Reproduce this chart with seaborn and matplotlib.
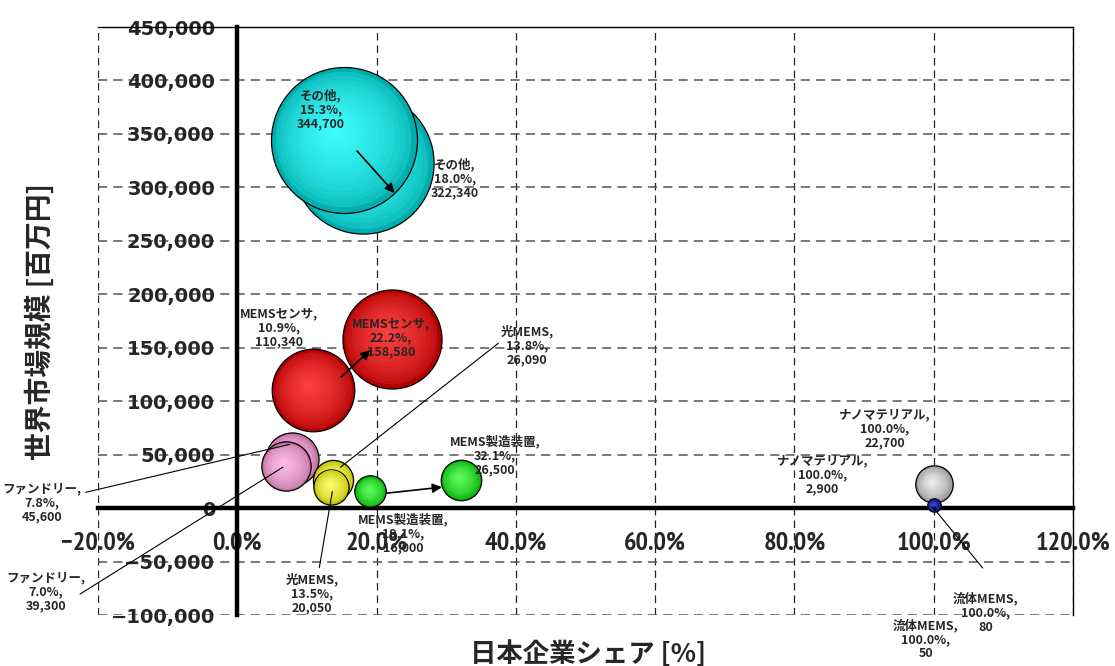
import numpy as np
import pandas as pd
import matplotlib
matplotlib.use("Agg")
import matplotlib.pyplot as plt
import seaborn as sns
from matplotlib import font_manager
from matplotlib.colors import to_rgb
from matplotlib.transforms import offset_copy

# ---- data -------------------------------------------------------------
category = ["その他", "その他", "MEMSセンサ", "MEMSセンサ", "ファンドリー", "ファンドリー",
            "光MEMS", "光MEMS", "MEMS製造装置", "MEMS製造装置",
            "ナノマテリアル", "ナノマテリアル", "流体MEMS", "流体MEMS"]
share = [18.0, 15.3, 10.9, 22.2, 7.8, 7.0, 13.8, 13.5, 19.1, 32.1, 100.0, 100.0, 100.0, 100.0]
market = [322340, 344700, 110340, 158580, 45600, 39300, 26090, 20050, 16000, 26500,
          22700, 2900, 80, 50]

x_ticks = [-20, 0, 20, 40, 60, 80, 100, 120]
x_tick_labels = ["−20.0%", "0.0%", "20.0%", "40.0%", "60.0%", "80.0%", "100.0%", "120.0%"]
y_ticks = [-100000, -50000, 0, 50000, 100000, 150000, 200000, 250000, 300000, 350000, 400000, 450000]
y_tick_labels = ["−100,000", "−50,000", "0", "50,000", "100,000", "150,000", "200,000",
                 "250,000", "300,000", "350,000", "400,000", "450,000"]

# movement arrows between the two periods (data coordinates)
arrow_start = [(17.2, 334000), (14.9, 122500), (21.5, 14000)]
arrow_end = [(22.6, 294700), (19.1, 147800), (29.4, 19600)]

df = pd.DataFrame({"category": category, "share": share, "market": market})

# ---- style --------------------------------------------------------------
# (edge colour, highlight colour) for each bubble, in drawing order
point_colours = [
    ("#00AEAE", "#40FFFF"), ("#00AEAE", "#40FFFF"),
    ("#B00000", "#FF4040"), ("#B00000", "#FF4040"),
    ("#C0709F", "#FFC0E8"), ("#C0709F", "#FFC0E8"),
    ("#BDBD00", "#FFFF70"), ("#BDBD00", "#FFFF70"),
    ("#00A800", "#60FF60"), ("#00A800", "#60FF60"),
    ("#8C8C8C", "#F0F0F0"), ("#00006E", "#3A4AD0"),
    ("#00006E", "#3A4AD0"), ("#00006E", "#3A4AD0"),
]

# label offsets from the bubble centre in pixels (x right, y up)
label_offset = [(92, -15), (-23, 30), (-34, 62), (-1, 1), (-250, -44), (-240, -126),
                (194, 135), (-19, -107), (33, -42), (34, 24), (-49, 55), (-111, 30),
                (52, -105), (-8, -131)]

# leader lines: index -> (start offset, end offset) in pixels
leaders = {
    4: ((-206, -33), (-2, 15)),
    5: ((-206, -128), (-3, -1)),
    6: ((165, 137), (7, 13)),
    7: ((-12, -81), (1, -5)),
    12: ((49, -60), (-1, 1)),
}

sns.set_style("white")


def narrow_font():
    """Return (family, stretch, size) for the percentage tick labels."""
    for f in font_manager.fontManager.ttflist:
        if "Narrow" in f.name and f.weight in (600, 700, "bold"):
            return f.name, "normal", 19
    return "Noto Sans CJK JP", "normal", 16


x_family, x_stretch, x_size = narrow_font()
plt.rcParams["font.family"] = ["Noto Sans CJK JP", "DejaVu Sans"]
plt.rcParams["axes.unicode_minus"] = True

DPI = 100
fig = plt.figure(figsize=(11.15, 6.66), dpi=DPI)
fig.patch.set_facecolor("white")
L, R, T, B = 98, 1073, 27, 615
ax = fig.add_axes([L / 1115, 1 - B / 666, (R - L) / 1115, (B - T) / 666])
ax.set_facecolor("white")

# bubble area proportional to market size
S_MAX = 11048.0          # marker area (pt^2) of the largest bubble
V_MAX = max(market)


def mix(a, b, t):
    a, b = np.array(to_rgb(a)), np.array(to_rgb(b))
    return tuple(a + (b - a) * t)


for i, row in df.iterrows():
    s = S_MAX * row["market"] / V_MAX
    dark, light = point_colours[i]
    sns.scatterplot(data=df.iloc[[i]], x="share", y="market", s=s, color=dark,
                    edgecolor="black", linewidth=0.9, legend=False, ax=ax, zorder=3)
    r_px = np.sqrt(s) / 2 * DPI / 72
    for f in np.linspace(0.93, 0.08, 14):
        shift = 0.14 * (1 - f) * r_px
        tr = offset_copy(ax.transData, fig=fig, x=-shift, y=shift, units="dots")
        ax.scatter([row["share"]], [row["market"]], s=s * f * f,
                   color=mix(dark, light, (1 - f) ** 0.55), linewidth=0,
                   transform=tr, zorder=3)

ax.set_xlim(-20, 120)
ax.set_ylim(-100000, 450000)
ax.set_xlabel("")
ax.set_ylabel("")

# grid
for xv in x_ticks:
    ax.axvline(xv, color="#222222", lw=0.9, ls=(0, (6, 4)), zorder=0.5)
for yv in y_ticks:
    ax.axhline(yv, color="#555555", lw=1.1, ls=(0, (6, 4)), zorder=0.5)

# spines: crossing axes at the origin, thin frame on top and right
ax.spines["left"].set_position(("data", 0))
ax.spines["bottom"].set_position(("data", 0))
for side in ("left", "bottom"):
    ax.spines[side].set_linewidth(3.2)
    ax.spines[side].set_color("black")
    ax.spines[side].set_zorder(2.5)
for side in ("top", "right"):
    ax.spines[side].set_linewidth(1.0)
    ax.spines[side].set_color("black")

ax.set_xticks(x_ticks, x_tick_labels, fontsize=x_size, fontweight="bold",
              family=[x_family, "DejaVu Sans"], fontstretch=x_stretch)
ax.set_yticks(y_ticks, y_tick_labels, fontsize=14, fontweight="bold", family=["DejaVu Sans"])
ax.tick_params(axis="both", direction="in", length=6.5, width=2.2, color="black")
ax.tick_params(axis="x", pad=17)
ax.tick_params(axis="y", pad=16)

# arrows
for (x0, y0), (x1, y1) in zip(arrow_start, arrow_end):
    ax.annotate("", xy=(x1, y1), xytext=(x0, y0),
                arrowprops=dict(arrowstyle="-|>", color="black", lw=1.2,
                                mutation_scale=14, shrinkA=0, shrinkB=0),
                zorder=6)

# leader lines
for i, ((sx, sy), (ex, ey)) in leaders.items():
    tr = offset_copy(ax.transData, fig=fig, x=ex, y=ey, units="dots")
    ax.annotate("", xy=(share[i], market[i]), xycoords=tr,
                xytext=(sx - ex, sy - ey), textcoords="offset pixels",
                arrowprops=dict(arrowstyle="-", color="black", lw=0.8,
                                shrinkA=0, shrinkB=0),
                annotation_clip=False, zorder=6)

# data labels
for i, row in df.iterrows():
    text = f"{row['category']},\n{row['share']:.1f}%,\n{row['market']:,}"
    ax.annotate(text, xy=(row["share"], row["market"]), xytext=label_offset[i],
                textcoords="offset pixels", ha="center", va="center",
                fontsize=9, fontweight="bold", linespacing=1.1,
                annotation_clip=False, zorder=7)

fig.text(588 / 1115, 1 - 654 / 666, "日本企業シェア [%]", ha="center", va="center",
         fontsize=19, fontweight="bold")
fig.text(40 / 1115, 1 - 322 / 666, "世界市場規模 [百万円]", ha="center", va="center",
         rotation=90, fontsize=20, fontweight="bold")

fig.savefig("out.png", dpi=DPI, facecolor="white")
